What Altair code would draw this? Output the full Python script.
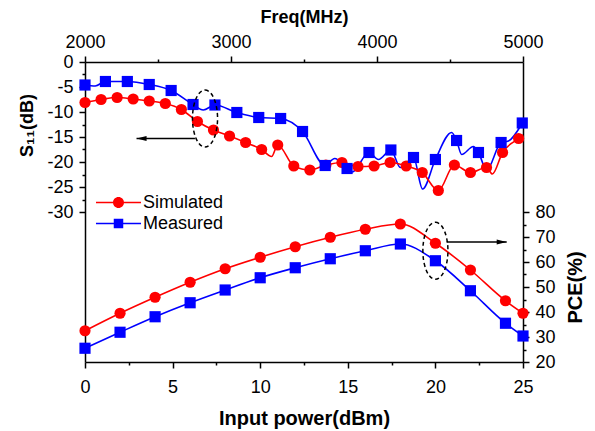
import altair as alt
import pandas as pd

# ---------------- data ----------------
series_names = ["Simulated", "Measured"]

# S11 vs frequency (top / left axes)
sim_freq = [2000, 2110, 2220, 2330, 2440, 2550, 2660, 2770, 2880, 2990, 3100, 3210, 3320, 3430,
            3540, 3650, 3760, 3870, 3980, 4090, 4200, 4310, 4420, 4530, 4640, 4750, 4860, 4970]
sim_s11 = [-8.1, -7.5, -7.1, -7.4, -7.8, -8.3, -9.5, -11.9, -13.6, -14.8, -16.1, -17.5, -16.6, -20.8,
           -21.6, -20.6, -20.1, -20.9, -20.8, -20.1, -20.8, -22.1, -25.7, -20.6, -22.1, -21.1, -18.1, -15.3]
sim_curve_freq = [3278, 4790, 5000]
sim_curve_s11 = [-18.9, -22.4, -14.6]

meas_freq = [2000, 2140, 2290, 2440, 2590, 2740, 2890, 3040, 3190, 3340, 3490, 3645, 3795, 3945,
             4095, 4250, 4400, 4545, 4695, 4850, 4995]
meas_s11 = [-4.6, -3.9, -3.9, -4.5, -5.7, -8.5, -8.6, -10.1, -11.1, -11.3, -13.9, -20.7, -21.3, -18.1,
            -17.6, -19.1, -19.5, -15.7, -18.1, -16.1, -12.2]
meas_curve_freq = [2070, 2810, 3710, 3830, 4010, 4160, 4312, 4511, 4580, 4660, 4751, 4900]
meas_curve_s11 = [-4.8, -9.6, -19.3, -22.0, -19.5, -21.1, -25.4, -14.1, -18.5, -16.9, -21.6, -15.8]

# PCE vs input power (bottom / right axes)
power = [0, 2, 4, 6, 8, 10, 12, 14, 16, 18, 20, 22, 24, 25]
pce_sim = [32.5, 39.5, 45.9, 51.9, 57.3, 61.9, 66.1, 69.9, 73.1, 75.2, 67.5, 56.8, 44.5, 39.5]
pce_meas = [25.5, 31.9, 38.1, 43.7, 48.8, 53.7, 57.7, 61.3, 64.5, 67.2, 60.5, 48.5, 35.5, 30.4]

# annotations
ell1_freq, ell1_s11 = [2822], [-11.3]
arr1_from, arr1_to, arr1_s11 = [2753], [2353], [-15.3]
ell2_power, ell2_pce = [20.0], [64.5]
arr2_from, arr2_to, arr2_pce = [20.64], [24.07], [68.0]

# axis ticks
freq_ticks = [2000, 2500, 3000, 3500, 4000, 4500, 5000]
s11_ticks = [0, -2.5, -5, -7.5, -10, -12.5, -15, -17.5, -20, -22.5, -25, -27.5, -30]
power_ticks = [0, 2.5, 5, 7.5, 10, 12.5, 15, 17.5, 20, 22.5, 25]
pce_ticks = [20, 25, 30, 35, 40, 45, 50, 55, 60, 65, 70, 75, 80]

# ---------------- frames ----------------
s11_pts = pd.concat([
    pd.DataFrame({"freq": sim_freq, "s11": sim_s11, "series": "Simulated"}),
    pd.DataFrame({"freq": meas_freq, "s11": meas_s11, "series": "Measured"}),
])
s11_curve = pd.concat([
    s11_pts,
    pd.DataFrame({"freq": sim_curve_freq, "s11": sim_curve_s11, "series": "Simulated"}),
    pd.DataFrame({"freq": meas_curve_freq, "s11": meas_curve_s11, "series": "Measured"}),
]).sort_values(["series", "freq"])
pce_df = pd.concat([
    pd.DataFrame({"power": power, "pce": pce_sim, "series": "Simulated"}),
    pd.DataFrame({"power": power, "pce": pce_meas, "series": "Measured"}),
])
ell1_df = pd.DataFrame({"freq": ell1_freq, "s11": ell1_s11})
arr1_df = pd.DataFrame({"freq": arr1_to, "freq2": arr1_from, "s11": arr1_s11})
ell2_df = pd.DataFrame({"power": ell2_power, "pce": ell2_pce})
arr2_df = pd.DataFrame({"power": arr2_to, "power2": arr2_from, "pce": arr2_pce})
legend_df = pd.DataFrame({"series": pd.Series([], dtype=str)})

# ---------------- styling ----------------
FONT = "Liberation Sans"
RED, BLUE = "#ff0000", "#0000ff"
color_scale = alt.Scale(domain=series_names, range=[RED, BLUE])
shape_scale = alt.Scale(domain=series_names, range=["circle", "square"])

ELLIPSE = ("M 0 -1 C 0.243 -1 0.44 -0.552 0.44 0 C 0.44 0.552 0.243 1 0 1 "
           "C -0.243 1 -0.44 0.552 -0.44 0 C -0.44 -0.552 -0.243 -1 0 -1 Z")
HEAD_LEFT = "M 0 0 L 1 -0.25 L 1 0.25 Z"
HEAD_RIGHT = "M 0 0 L -1 -0.25 L -1 0.25 Z"
LEG_BAR = " M -2.37 -0.09 L 2.37 -0.09 L 2.37 0.09 L -2.37 0.09 Z"
LEG_CIRCLE = ("M 0.58 0 C 0.58 0.32 0.32 0.58 0 0.58 C -0.32 0.58 -0.58 0.32 -0.58 0 "
              "C -0.58 -0.32 -0.32 -0.58 0 -0.58 C 0.32 -0.58 0.58 -0.32 0.58 0 Z" + LEG_BAR)
LEG_SQUARE = "M -0.5 -0.5 L 0.5 -0.5 L 0.5 0.5 L -0.5 0.5 Z" + LEG_BAR


def tick_size(test):
    return {"condition": {"test": test, "value": 6}, "value": 3}


common_axis = dict(grid=False, domainColor="black", domainWidth=1.5, tickColor="black", tickWidth=1.5,
                   labelFont=FONT, labelFontSize=18, labelColor="black", titleFont=FONT,
                   titleFontWeight="bold", titleColor="black", labelOverlap=False, labelFlush=False)

ax_top = alt.Axis(orient="top", title="Freq(MHz)", values=freq_ticks, titleFontSize=18,
                  labelExpr="datum.value % 1000 === 0 ? '' + datum.value : ''",
                  tickSize=tick_size("datum.value % 1000 === 0"), labelPadding=5, titlePadding=7,
                  **common_axis)
ax_left = alt.Axis(orient="left", title="S₁₁(dB)", values=s11_ticks, titleFontSize=18, titleY=63,
                   labelExpr="datum.value % 5 === 0 ? '' + datum.value : ''",
                   tickSize=tick_size("datum.value % 5 === 0"), labelPadding=6, titlePadding=10,
                   **common_axis)
ax_bottom = alt.Axis(orient="bottom", title="Input power(dBm)", values=power_ticks, titleFontSize=20,
                     labelExpr="datum.value % 5 === 0 ? '' + datum.value : ''",
                     tickSize=tick_size("datum.value % 5 === 0"), labelPadding=10, titlePadding=12,
                     **common_axis)
ax_right = alt.Axis(orient="right", title="PCE(%)", values=pce_ticks, titleFontSize=20, titleAngle=270,
                    titleBaseline="top", titleY=225,
                    labelExpr="datum.value % 10 === 0 ? '' + datum.value : ''",
                    tickSize=tick_size("datum.value % 10 === 0"), labelPadding=6, titlePadding=10,
                    **common_axis)

X_F = alt.X("freq:Q", scale=alt.Scale(domain=[2000, 5000], nice=False, zero=False), axis=ax_top)
Y_S = alt.Y("s11:Q", scale=alt.Scale(domain=[-60, 0], nice=False, zero=False), axis=ax_left)
X_P = alt.X("power:Q", scale=alt.Scale(domain=[0, 25], nice=False, zero=False), axis=ax_bottom)
Y_P = alt.Y("pce:Q", scale=alt.Scale(domain=[20, 140], nice=False, zero=False), axis=ax_right)

C = alt.Color("series:N", scale=color_scale, legend=None)
SHAPE = alt.Shape("series:N", scale=shape_scale, legend=None)

# ---------------- S11 group ----------------
s11_line = alt.Chart(s11_curve).mark_line(interpolate="monotone", strokeWidth=1.6).encode(
    x=X_F, y=Y_S, color=C, detail="series:N")
s11_marks = alt.Chart(s11_pts).mark_point(filled=True, opacity=1, size=125).encode(
    x=X_F, y=Y_S, color=C, shape=SHAPE)
ell1 = alt.Chart(ell1_df).mark_point(shape=ELLIPSE, size=3249, filled=False, color="black",
                                     strokeWidth=1.5, strokeDash=[4, 3], opacity=1).encode(x=X_F, y=Y_S)
arr1_line = alt.Chart(arr1_df).mark_rule(color="black", strokeWidth=1.5).encode(
    x=X_F, x2="freq2:Q", y=Y_S)
arr1_head = alt.Chart(arr1_df).mark_point(shape=HEAD_LEFT, size=400, filled=True, color="black",
                                          opacity=1).encode(x=X_F, y=Y_S)
s11_group = alt.layer(s11_line, s11_marks, ell1, arr1_line, arr1_head)

# ---------------- PCE group ----------------
pce_line = alt.Chart(pce_df).mark_line(interpolate="monotone", strokeWidth=1.6).encode(
    x=X_P, y=Y_P, color=C, detail="series:N")
pce_marks = alt.Chart(pce_df).mark_point(filled=True, opacity=1, size=125).encode(
    x=X_P, y=Y_P, color=C, shape=SHAPE)
ell2 = alt.Chart(ell2_df).mark_point(shape=ELLIPSE, size=3249, filled=False, color="black",
                                     strokeWidth=1.5, strokeDash=[4, 3], opacity=1).encode(x=X_P, y=Y_P)
arr2_line = alt.Chart(arr2_df).mark_rule(color="black", strokeWidth=1.5).encode(
    x=X_P, x2="power2:Q", y=Y_P)
arr2_head = alt.Chart(arr2_df).mark_point(shape=HEAD_RIGHT, size=400, filled=True, color="black",
                                          opacity=1).encode(x=X_P, y=Y_P)
pce_group = alt.layer(pce_line, pce_marks, ell2, arr2_line, arr2_head)


# ---------------- legend-only layers (one entry each) ----------------
def legend_layer(name, path, colour, y):
    leg = alt.Legend(title=None, orient="none", legendX=23, legendY=y, labelFont=FONT,
                     labelFontSize=18, labelColor="black", symbolSize=361, padding=0,
                     labelOffset=14, symbolStrokeWidth=2, symbolOpacity=1,
                     symbolFillColor=colour, symbolStrokeColor=colour)
    return alt.Chart(legend_df).mark_point(filled=True, fill=colour, stroke=colour, strokeWidth=2,
                                           opacity=1).encode(
        shape=alt.Shape("series:N", scale=alt.Scale(domain=[name], range=[path]), legend=leg))


leg_sim = legend_layer(series_names[0], LEG_CIRCLE, RED, 130)
leg_meas = legend_layer(series_names[1], LEG_SQUARE, BLUE, 151)

chart = alt.layer(s11_group, pce_group, leg_sim, leg_meas).resolve_scale(
    x="independent", y="independent", shape="independent"
).properties(
    width=438, height=300,
    autosize=alt.AutoSizeParams(type="none"),
    padding={"left": 77, "top": 54, "right": 64, "bottom": 69},
).configure_view(strokeWidth=0)

chart.save("out.html", embed_options={"renderer": "svg", "actions": False})
